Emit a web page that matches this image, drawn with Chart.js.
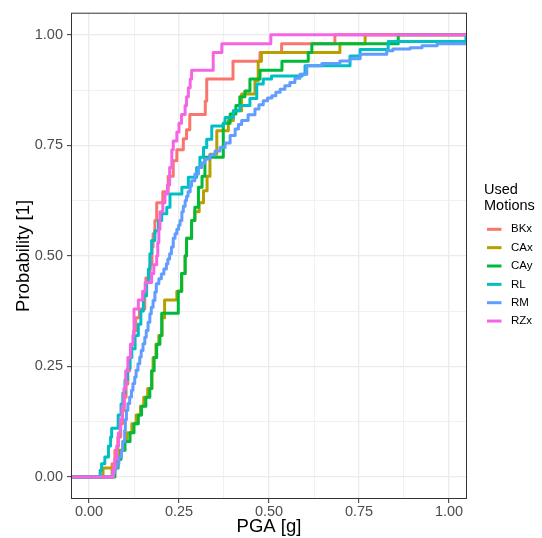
<!DOCTYPE html>
<html>
<head>
<meta charset="utf-8">
<script src="https://cdn.jsdelivr.net/npm/chart.js@4/dist/chart.umd.min.js"></script>
<style>
  body { margin: 0; background: #fff; }
  canvas { display: block; }
</style>
</head>
<body>
<canvas id="chartEcdf" width="542" height="538"></canvas>
<script>
// Motions shown in the legend
const motions = ['BKx', 'CAx', 'CAy', 'RL', 'RM', 'RZx'];

// ECDF steps: PGA [g] where each step happens and the probability after it
const bkxPga = [0.064, 0.072, 0.080, 0.088, 0.093, 0.098, 0.103, 0.108, 0.113, 0.118, 0.124, 0.130, 0.140, 0.155, 0.158, 0.170, 0.175, 0.178, 0.183, 0.188, 0.205, 0.220, 0.234, 0.244, 0.262, 0.271, 0.280, 0.323, 0.327, 0.400, 0.475, 0.535, 0.683];
const bkxProb = [0.03, 0.06, 0.09, 0.12, 0.15, 0.18, 0.21, 0.24, 0.27, 0.30, 0.33, 0.36, 0.38, 0.42, 0.45, 0.48, 0.52, 0.55, 0.58, 0.62, 0.645, 0.68, 0.715, 0.74, 0.765, 0.785, 0.82, 0.85, 0.90, 0.94, 0.96, 0.98, 1.00];

const caxPga = [0.039, 0.075, 0.085, 0.094, 0.106, 0.119, 0.131, 0.143, 0.152, 0.163, 0.175, 0.178, 0.186, 0.194, 0.203, 0.210, 0.244, 0.258, 0.267, 0.271, 0.285, 0.294, 0.306, 0.318, 0.328, 0.336, 0.355, 0.387, 0.401, 0.424, 0.461, 0.470, 0.479, 0.697, 0.767];
const caxProb = [0.02, 0.04, 0.06, 0.08, 0.10, 0.12, 0.14, 0.16, 0.18, 0.20, 0.24, 0.27, 0.30, 0.32, 0.36, 0.40, 0.42, 0.46, 0.50, 0.54, 0.58, 0.60, 0.62, 0.647, 0.68, 0.73, 0.783, 0.806, 0.828, 0.866, 0.896, 0.94, 0.96, 0.98, 1.00];

const cayPga = [0.072, 0.081, 0.089, 0.100, 0.114, 0.125, 0.137, 0.146, 0.158, 0.169, 0.174, 0.181, 0.188, 0.197, 0.202, 0.248, 0.257, 0.267, 0.271, 0.285, 0.294, 0.304, 0.314, 0.322, 0.373, 0.392, 0.408, 0.419, 0.433, 0.447, 0.475, 0.536, 0.609, 0.619, 0.859];
const cayProb = [0.02, 0.04, 0.06, 0.08, 0.10, 0.12, 0.14, 0.16, 0.18, 0.20, 0.24, 0.27, 0.30, 0.32, 0.37, 0.42, 0.46, 0.50, 0.54, 0.58, 0.61, 0.655, 0.68, 0.723, 0.80, 0.821, 0.84, 0.86, 0.873, 0.90, 0.92, 0.94, 0.96, 0.98, 1.00];

const rlPga = [0.031, 0.035, 0.044, 0.054, 0.060, 0.063, 0.081, 0.089, 0.094, 0.100, 0.107, 0.114, 0.119, 0.128, 0.137, 0.144, 0.151, 0.160, 0.165, 0.169, 0.174, 0.183, 0.193, 0.202, 0.216, 0.225, 0.258, 0.276, 0.299, 0.308, 0.318, 0.327, 0.341, 0.373, 0.378, 0.401, 0.419, 0.447, 0.466, 0.484, 0.507, 0.592, 0.600, 0.725, 0.753, 0.831, 1.047];
const rlProb = [0.015, 0.03, 0.045, 0.07, 0.09, 0.11, 0.14, 0.165, 0.19, 0.22, 0.245, 0.27, 0.29, 0.32, 0.345, 0.375, 0.41, 0.44, 0.47, 0.505, 0.535, 0.557, 0.58, 0.595, 0.61, 0.64, 0.655, 0.678, 0.70, 0.723, 0.745, 0.764, 0.794, 0.80, 0.813, 0.828, 0.84, 0.856, 0.889, 0.90, 0.907, 0.911, 0.93, 0.952, 0.967, 0.985, 1.00];

const rmPga = [0.067, 0.072, 0.078, 0.083, 0.090, 0.094, 0.099, 0.101, 0.104, 0.108, 0.113, 0.118, 0.122, 0.127, 0.131, 0.136, 0.141, 0.145, 0.150, 0.155, 0.159, 0.164, 0.169, 0.173, 0.178, 0.183, 0.187, 0.194, 0.201, 0.208, 0.215, 0.219, 0.224, 0.229, 0.234, 0.239, 0.244, 0.249, 0.253, 0.258, 0.262, 0.267, 0.271, 0.275, 0.281, 0.285, 0.294, 0.304, 0.313, 0.322, 0.336, 0.350, 0.364, 0.378, 0.392, 0.406, 0.415, 0.424, 0.442, 0.461, 0.472, 0.484, 0.496, 0.508, 0.519, 0.531, 0.544, 0.558, 0.572, 0.586, 0.605, 0.647, 0.697, 0.725, 0.753, 0.827, 0.844, 0.892, 0.925, 0.967];
const rmProb = [0.01, 0.02, 0.03, 0.045, 0.06, 0.08, 0.105, 0.13, 0.151, 0.166, 0.181, 0.196, 0.211, 0.226, 0.241, 0.256, 0.271, 0.286, 0.301, 0.316, 0.331, 0.35, 0.369, 0.384, 0.399, 0.418, 0.437, 0.448, 0.459, 0.47, 0.482, 0.493, 0.505, 0.52, 0.54, 0.55, 0.56, 0.57, 0.58, 0.60, 0.612, 0.625, 0.635, 0.645, 0.658, 0.67, 0.685, 0.70, 0.71, 0.719, 0.728, 0.737, 0.745, 0.755, 0.772, 0.787, 0.797, 0.806, 0.819, 0.832, 0.842, 0.851, 0.857, 0.862, 0.87, 0.877, 0.885, 0.892, 0.902, 0.911, 0.93, 0.935, 0.941, 0.946, 0.956, 0.964, 0.968, 0.971, 0.975, 0.98];

const rzxPga = [0.068, 0.072, 0.077, 0.082, 0.087, 0.092, 0.097, 0.102, 0.108, 0.115, 0.122, 0.125, 0.137, 0.149, 0.156, 0.174, 0.180, 0.188, 0.191, 0.194, 0.197, 0.205, 0.211, 0.218, 0.224, 0.230, 0.234, 0.244, 0.250, 0.257, 0.267, 0.271, 0.276, 0.281, 0.285, 0.345, 0.369, 0.505];
const rzxProb = [0.02, 0.04, 0.07, 0.10, 0.13, 0.16, 0.20, 0.24, 0.27, 0.30, 0.32, 0.38, 0.40, 0.42, 0.44, 0.46, 0.48, 0.50, 0.53, 0.56, 0.60, 0.62, 0.64, 0.66, 0.70, 0.74, 0.76, 0.78, 0.80, 0.82, 0.84, 0.86, 0.88, 0.90, 0.92, 0.96, 0.98, 1.00];

// Axis breaks
const xTicks = [0, 0.25, 0.5, 0.75, 1];
const xMinor = [0.125, 0.375, 0.625, 0.875];
const yTicks = [0, 0.25, 0.5, 0.75, 1];
const yMinor = [0.125, 0.375, 0.625, 0.875];

const colors = ['#F8766D', '#B79F00', '#00BA38', '#00BFC4', '#619CFF', '#F564E3'];
const FONT = '"Liberation Sans", Arial, Helvetica, sans-serif';

document.addEventListener('DOMContentLoaded', function() {

    const steps = [[bkxPga, bkxProb], [caxPga, caxProb], [cayPga, cayProb],
                   [rlPga, rlProb], [rmPga, rmProb], [rzxPga, rzxProb]];

    // ecdf is padded to -Inf / Inf like stat_ecdf does
    function ecdfPoints(pga, prob) {
        const pts = [{ x: -1, y: 0 }];
        pga.forEach((v, i) => pts.push({ x: v, y: prob[i] }));
        pts.push({ x: 2, y: prob[prob.length - 1] });
        return pts;
    }

    const datasets = motions.map((name, i) => ({
        label: name,
        data: ecdfPoints(steps[i][0], steps[i][1]),
        borderColor: colors[i],
        backgroundColor: colors[i],
        borderWidth: 3,
        stepped: 'before',
        pointRadius: 0,
        fill: false,
        clip: 0,
        borderJoinStyle: 'round',
        order: motions.length - i   // last motion drawn on top
    }));

    const isMinor = v => Math.abs(v * 4 - Math.round(v * 4)) > 1e-6;

    function axis(major, minor) {
        return function(scale) {
            scale.ticks = major.concat(minor).map(v => ({ value: v }));
        };
    }

    const grid = {
        color: '#EBEBEB',
        lineWidth: c => (c.tick && isMinor(c.tick.value)) ? 0.7 : 1.3,
        tickColor: c => (c.tick && isMinor(c.tick.value)) ? 'rgba(0,0,0,0)' : '#333333',
        tickWidth: 1,
        tickLength: 4,
        drawTicks: true
    };

    const tickFont = { family: FONT, size: 14.5 };
    const titleFont = { family: FONT, size: 18.5 };

    // panel border (theme_bw)
    const panelBorder = {
        id: 'panelBorder',
        afterDraw(chart) {
            const a = chart.chartArea, ctx = chart.ctx;
            ctx.save();
            ctx.strokeStyle = '#333333';
            ctx.lineWidth = 1;
            ctx.strokeRect(a.left + 0.5, a.top + 0.5, a.right - a.left - 1, a.bottom - a.top - 1);
            ctx.restore();
        }
    };

    // legend at the right like ggplot
    const sideLegend = {
        id: 'sideLegend',
        afterDraw(chart) {
            const ctx = chart.ctx;
            ctx.save();
            ctx.fillStyle = '#000';
            ctx.textBaseline = 'middle';
            ctx.textAlign = 'left';
            ctx.font = '14.5px ' + FONT;
            ctx.fillText('Used', 484, 190);
            ctx.fillText('Motions', 484, 206);
            ctx.font = '11.5px ' + FONT;
            motions.forEach((name, i) => {
                const y = 229.3 + i * 18.35;
                ctx.strokeStyle = colors[i];
                ctx.lineWidth = 3;
                ctx.beginPath();
                ctx.moveTo(487, y);
                ctx.lineTo(501.5, y);
                ctx.stroke();
                ctx.fillText(name, 511, y);
            });
            ctx.restore();
        }
    };

    new Chart(document.getElementById('chartEcdf'), {
        type: 'line',
        data: { datasets: datasets },
        options: {
            responsive: false,
            animation: false,
            layout: { padding: { top: 12, right: 75, left: 0, bottom: 0 } },
            plugins: {
                legend: { display: false },
                tooltip: { enabled: false }
            },
            scales: {
                x: {
                    type: 'linear',
                    min: -0.05,
                    max: 1.05,
                    afterBuildTicks: axis(xTicks, xMinor),
                    afterFit: s => { s.height = 39; },
                    grid: grid,
                    border: { display: false },
                    ticks: {
                        autoSkip: false,
                        maxRotation: 0,
                        padding: 0,
                        color: '#4D4D4D',
                        font: tickFont,
                        callback: v => isMinor(v) ? '' : v.toFixed(2)
                    },
                    title: {
                        display: true,
                        text: 'PGA [g]',
                        color: '#000',
                        font: titleFont,
                        padding: { top: 0, bottom: 0 }
                    }
                },
                y: {
                    type: 'linear',
                    min: -0.05,
                    max: 1.05,
                    afterBuildTicks: axis(yTicks, yMinor),
                    afterFit: s => { s.width = 71; },
                    grid: grid,
                    border: { display: false },
                    ticks: {
                        autoSkip: false,
                        padding: 4,
                        color: '#4D4D4D',
                        font: tickFont,
                        callback: v => isMinor(v) ? '' : v.toFixed(2)
                    },
                    title: {
                        display: true,
                        text: 'Probability [1]',
                        color: '#000',
                        font: titleFont,
                        padding: { top: 13, bottom: 0 }
                    }
                }
            }
        },
        plugins: [panelBorder, sideLegend]
    });

});
</script>
</body>
</html>
